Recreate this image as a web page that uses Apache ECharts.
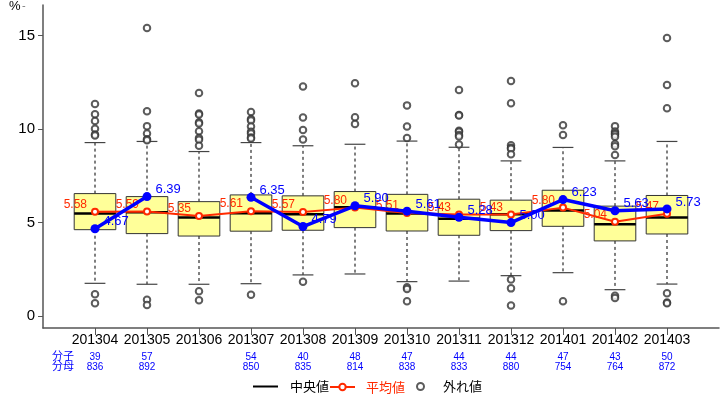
<!DOCTYPE html>
<html>
<head>
<meta charset="utf-8">
<script src="https://cdn.jsdelivr.net/npm/echarts@6/dist/echarts.min.js"></script>
<style>
html,body{margin:0;padding:0;background:#fff;}
#chart{width:720px;height:401px;}
</style>
</head>
<body>
<div id="chart"></div>
<script>
const categories = ['201304','201305','201306','201307','201308','201309','201310','201311','201312','201401','201402','201403'];
const whiskerLow  = [1.75, 1.70, 1.70, 1.73, 2.20, 2.25, 1.84, 1.87, 2.16, 2.32, 1.41, 1.71];
const q1          = [4.62, 4.41, 4.28, 4.54, 4.59, 4.73, 4.55, 4.32, 4.57, 4.80, 4.02, 4.39];
const median      = [5.48, 5.55, 5.27, 5.50, 5.45, 5.82, 5.48, 5.21, 5.45, 5.64, 4.91, 5.27];
const q3          = [6.55, 6.39, 6.12, 6.48, 6.43, 6.66, 6.51, 6.25, 6.20, 6.73, 5.88, 6.45];
const whiskerHigh = [9.28, 9.34, 8.80, 9.28, 9.11, 9.19, 9.36, 9.03, 8.30, 9.02, 8.30, 9.34];
const outliers = [
  [11.34, 10.80, 10.43, 10.02, 9.71, 9.66, 1.16, 0.68],
  [15.41, 10.96, 10.16, 9.77, 9.46, 9.41, 0.87, 0.59],
  [11.93, 10.84, 10.78, 10.37, 10.30, 9.89, 9.53, 9.43, 9.11, 1.32, 0.84],
  [10.91, 10.54, 10.46, 10.14, 9.86, 9.77, 9.55, 9.50, 1.14],
  [12.28, 10.62, 9.95, 9.45, 1.84],
  [12.46, 10.64, 10.27],
  [11.27, 10.14, 9.52, 1.54, 1.45, 0.79],
  [12.09, 10.75, 10.73, 9.91, 9.86, 9.69, 9.60, 9.18],
  [12.57, 11.39, 9.14, 9.00, 8.95, 8.66, 1.96, 1.48, 0.57],
  [10.21, 9.68, 0.79],
  [10.16, 9.87, 9.78, 9.71, 9.59, 9.20, 9.09, 8.61, 1.09, 0.96],
  [14.87, 12.36, 11.12, 1.22, 0.73, 0.68]
];
const meanValues = [5.58, 5.59, 5.35, 5.61, 5.57, 5.80, 5.51, 5.43, 5.43, 5.80, 5.04, 5.47];
const ownValues  = [4.67, 6.39, null, 6.35, 4.79, 5.90, 5.61, 5.28, 5.00, 6.23, 5.63, 5.73];
const numerators   = ['39','57','','54','40','48','47','44','44','47','43','50'];
const denominators = ['836','892','','850','835','814','838','833','880','754','764','872'];
const yTicks = [0, 5, 10, 15];

const SANS = '"Liberation Sans",Arial,sans-serif';
const JP = '"Noto Sans CJK JP","Noto Sans",sans-serif';
const RED = '#ff2a00';
const BLUE = '#0000ff';

const boxData = categories.map((c, i) => [i, whiskerLow[i], q1[i], median[i], q3[i], whiskerHigh[i]]);
const outlierData = [];
outliers.forEach((arr, i) => arr.forEach(v => outlierData.push([i, v])));
const meanData = meanValues.map((v, i) => [i, v]);
const ownData = ownValues.map((v, i) => [i, v == null ? '-' : v]);
const catIdx = categories.map((c, i) => i);

function renderBox(params, api) {
  const i = api.value(0);
  const lo = api.value(1), a = api.value(2), m = api.value(3), b = api.value(4), hi = api.value(5);
  const hw = 0.4, cw = 0.2;
  const pA = api.coord([i - hw, b]);
  const pB = api.coord([i + hw, a]);
  const cx = api.coord([i, 0])[0];
  const yLo = api.coord([i, lo])[1], yHi = api.coord([i, hi])[1];
  const yA = api.coord([i, a])[1], yB = api.coord([i, b])[1], yM = api.coord([i, m])[1];
  const xcl = api.coord([i - cw, 0])[0], xcr = api.coord([i + cw, 0])[0];
  const dash = {stroke: '#000', lineWidth: 1, lineDash: [3, 3]};
  const cap = {stroke: '#444', lineWidth: 1.2};
  return {
    type: 'group',
    children: [
      {type: 'line', shape: {x1: cx, y1: yB, x2: cx, y2: yHi}, style: dash},
      {type: 'line', shape: {x1: cx, y1: yA, x2: cx, y2: yLo}, style: dash},
      {type: 'line', shape: {x1: xcl, y1: yHi, x2: xcr, y2: yHi}, style: cap},
      {type: 'line', shape: {x1: xcl, y1: yLo, x2: xcr, y2: yLo}, style: cap},
      {type: 'rect', shape: {x: pA[0], y: pA[1], width: pB[0] - pA[0], height: pB[1] - pA[1]},
        style: {fill: '#ffff99', stroke: '#333', lineWidth: 1}},
      {type: 'line', shape: {x1: pA[0], y1: yM, x2: pB[0], y2: yM}, style: {stroke: '#000', lineWidth: 2.5}}
    ]
  };
}

const legendBase = {padding: 0, top: 380, itemHeight: 14, textStyle: {fontFamily: JP, fontSize: 13, color: '#000'}};

const chart = echarts.init(document.getElementById('chart'), null, {renderer: 'canvas'});
chart.setOption({
  animation: false,
  backgroundColor: '#fff',
  grid: {left: 43, right: 1, top: 5, bottom: 73},
  graphic: [
    {type: 'text', left: 9, top: 0, style: {text: '%', fontSize: 13, fontFamily: SANS, fill: '#000'}},
    {type: 'text', left: 22, top: 0, style: {text: '-', fontSize: 11, fontFamily: SANS, fill: '#777'}},
    {type: 'text', left: 52, top: 350, style: {text: '分子\n分母', fontSize: 11, lineHeight: 10, fontFamily: JP, fill: BLUE}}
  ],
  legend: [
    Object.assign({}, legendBase, {left: 252, itemWidth: 25,
      data: [{name: '中央値', textStyle: {padding: [0, 0, 0, 7]}}]}),
    Object.assign({}, legendBase, {left: 329, top: 380.5, itemWidth: 25, itemHeight: 8,
      data: [{name: '平均値', textStyle: {color: RED, padding: [0, 0, 0, 6]}}]}),
    Object.assign({}, legendBase, {left: 416, itemWidth: 7, itemHeight: 7,
      itemStyle: {borderColor: '#000', borderWidth: 2},
      data: [{name: '外れ値', textStyle: {padding: [0, 0, 0, 14]}}]})
  ],
  xAxis: {
    type: 'value', min: -1, max: 12,
    splitLine: {show: false},
    axisLine: {show: true, onZero: false, lineStyle: {color: '#555', width: 1.5}},
    axisTick: {show: true, length: 7, customValues: catIdx, lineStyle: {color: '#555'}},
    axisLabel: {
      customValues: catIdx,
      showMinLabel: true, showMaxLabel: true, hideOverlap: false,
      margin: 0,
      formatter: v => {
        const i = Math.round(v);
        return '{a|' + categories[i] + '}\n{b|' + (numerators[i] || ' ') + '}\n{b|' + (denominators[i] || ' ') + '}';
      },
      rich: {
        a: {fontSize: 14, lineHeight: 24, fontFamily: SANS, color: '#000'},
        b: {fontSize: 10, lineHeight: 10, fontFamily: SANS, color: BLUE}
      }
    }
  },
  yAxis: {
    type: 'value', min: -0.64, max: 16.64,
    splitLine: {show: false},
    axisLine: {show: true, onZero: false, lineStyle: {color: '#555', width: 1.5}},
    axisTick: {show: true, length: 5, customValues: yTicks, lineStyle: {color: '#555'}},
    axisLabel: {customValues: yTicks, margin: 8, fontSize: 15, fontFamily: SANS, color: '#000'}
  },
  series: [
    {
      name: 'box', type: 'custom', renderItem: renderBox, data: boxData, z: 1,
      encode: {x: 0, y: [1, 2, 3, 4, 5]}
    },
    {
      name: '中央値', type: 'line', data: [], symbol: 'none',
      itemStyle: {color: 'rgba(0,0,0,0)', borderWidth: 0},
      lineStyle: {color: '#000', width: 2}
    },
    {
      name: '外れ値', type: 'scatter', data: outlierData, z: 2,
      symbol: 'emptyCircle', symbolSize: 6.5,
      itemStyle: {color: '#333', borderColor: '#333', borderWidth: 1}
    },
    {
      name: '平均値', type: 'line', data: meanData, z: 3,
      symbol: 'emptyCircle', symbolSize: 6,
      itemStyle: {color: RED, borderColor: RED, borderWidth: 1.5},
      lineStyle: {color: RED, width: 2},
      label: {
        show: true, position: 'left', distance: 4, offset: [0, -7],
        color: RED, fontSize: 12, fontFamily: SANS,
        formatter: p => p.value[1].toFixed(2)
      }
    },
    {
      name: 'own', type: 'line', data: ownData, z: 4,
      symbol: 'circle', symbolSize: 9, connectNulls: false,
      itemStyle: {color: BLUE},
      lineStyle: {color: BLUE, width: 3.5},
      label: {
        show: true, position: 'right', distance: 4, offset: [0, -7],
        color: BLUE, fontSize: 13, fontFamily: SANS,
        formatter: p => (typeof p.value[1] === 'number' ? p.value[1].toFixed(2) : '')
      }
    }
  ]
});
</script>
</body>
</html>
